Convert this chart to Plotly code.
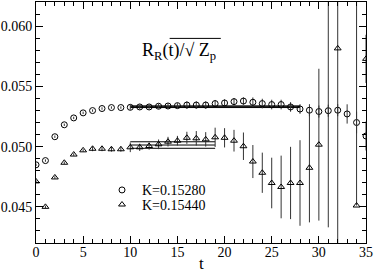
import plotly.graph_objects as go

t = list(range(36))

circ_val = [0.04849, 0.04884, 0.05082, 0.05181, 0.05238, 0.05280, 0.05299, 0.05316, 0.05324, 0.05324,
            0.05326, 0.05329, 0.05329, 0.05335, 0.05337, 0.05340, 0.05345, 0.05345, 0.05345, 0.05357,
            0.05362, 0.05373, 0.05378, 0.05368, 0.05357, 0.05349, 0.05349, 0.05329, 0.05312, 0.05302,
            0.05291, 0.05298, 0.05302, 0.05271, 0.05200, 0.05088]
circ_err = [0.0001, 0.0001, 0.0001, 0.0001, 0.0001, 0.0001, 0.0001, 0.0001, 0.0001, 0.0001,
            0.0002, 0.0002, 0.0002, 0.0002, 0.0002, 0.0002, 0.0003, 0.0003, 0.0003, 0.0003,
            0.0003, 0.0003, 0.0003, 0.0004, 0.0004, 0.0004, 0.0004, 0.0004, 0.0004, 0.0005,
            0.0005, 0.0005, 0.0005, 0.0008, 0.0009, 0.0012]

tri_val = [0.04711, 0.04500, 0.04744, 0.04866, 0.04934, 0.04969, 0.04982, 0.04982, 0.04978, 0.04978,
           0.04994, 0.04994, 0.05005, 0.05019, 0.05041, 0.05049, 0.05073, 0.05069, 0.05060, 0.05077,
           0.05073, 0.05049, 0.05003, 0.04876, 0.04783, 0.04698, 0.04665, 0.04698, 0.04698, 0.04824,
           0.05016, 0.06450, 0.05815, None, 0.04511, 0.05728]
tri_err_plus = [0.0001, 0.0001, 0.0001, 0.0001, 0.0001, 0.0001, 0.0002, 0.0002, 0.0002, 0.0002,
                0.0004, 0.0003, 0.0003, 0.0004, 0.0004, 0.0004, 0.0005, 0.0006, 0.0006, 0.0008,
                0.0008, 0.0009, 0.00114, 0.00137, 0.00167, 0.0021, 0.0026, 0.0030, 0.00355, 0.00453,
                0.0063, 0.0212, 0.0180, 0.0, 0.0200, 0.0020]
tri_err_minus = [0.0001, 0.0001, 0.0001, 0.0001, 0.0001, 0.0001, 0.0002, 0.0002, 0.0002, 0.0002,
                 0.0004, 0.0003, 0.0003, 0.0004, 0.0004, 0.0004, 0.0005, 0.0006, 0.0006, 0.0008,
                 0.0008, 0.0009, 0.00114, 0.00137, 0.00167, 0.0021, 0.0026, 0.0030, 0.00355, 0.00453,
                 0.0063, 0.0212, 0.0180, 0.0, 0.0, 0.0020]

# plateau fits: (t_start, t_end, value, error)
fit_circ = (10, 28, 0.05331, 0.00007)
fit_tri = (10, 19, 0.05013, 0.00027)

labels = ["K=0.15280", "K=0.15440"]

FONT = "Liberation Serif"
BAR = "#333333"
fig = go.Figure()

for (t0, t1, v, e) in [fit_circ, fit_tri]:
    for yv in (v - e, v, v + e):
        fig.add_trace(go.Scatter(x=[t0, t1], y=[yv, yv], mode="lines",
                                 line=dict(color="black", width=1), showlegend=False,
                                 hoverinfo="skip"))

fig.add_trace(go.Scatter(
    x=t, y=circ_val, mode="markers", name=labels[0], legend="legend",
    marker=dict(symbol="circle-open", size=6, color="black", line=dict(width=1, color="black")),
    error_y=dict(type="data", array=circ_err, color=BAR, thickness=1, width=0),
))
fig.add_trace(go.Scatter(
    x=t, y=tri_val, mode="markers", name=labels[1], legend="legend2",
    marker=dict(symbol="triangle-up-open", size=6, color="black", line=dict(width=1, color="black")),
    error_y=dict(type="data", array=tri_err_plus, arrayminus=tri_err_minus, symmetric=False,
                 color=BAR, thickness=1, width=0),
))

axis_common = dict(
    showline=True, linecolor="black", linewidth=1, mirror="ticks",
    ticks="inside", ticklen=7, tickwidth=1, tickcolor="black",
    showgrid=False, zeroline=False, automargin=False,
    tickfont=dict(family=FONT, size=14, color="black"),
)

fig.update_layout(
    width=374, height=273, autosize=False,
    margin=dict(l=36, r=8, t=2, b=30),
    paper_bgcolor="white", plot_bgcolor="white",
    font=dict(family=FONT, color="black"),
    xaxis=dict(range=[0, 35], dtick=5, tick0=0, ticklabelstandoff=-4,
               minor=dict(dtick=1, ticks="inside", ticklen=4, tickcolor="black"),
               **axis_common),
    yaxis=dict(range=[0.042, 0.062], dtick=0.005, tick0=0.045, tickformat=".3f",
               minor=dict(dtick=0.001, ticks="inside", ticklen=4, tickcolor="black"),
               **axis_common),
    legend=dict(x=0.2, y=0.2185, xanchor="left", yanchor="middle",
                font=dict(family=FONT, size=14, color="black"), bgcolor="rgba(0,0,0,0)"),
    legend2=dict(x=0.2, y=0.158, xanchor="left", yanchor="middle",
                 font=dict(family=FONT, size=14, color="black"), bgcolor="rgba(0,0,0,0)"),
    annotations=[
        dict(xref="paper", yref="paper", x=0.433, y=0.795, xanchor="center", yanchor="middle",
             text="R<sub>R</sub>(t)/√ Z<sub>p</sub>", showarrow=False,
             font=dict(family=FONT, size=18, color="black")),
        dict(xref="paper", yref="paper", x=0.5, y=-0.085, xanchor="center", yanchor="middle",
             text="t", showarrow=False, borderpad=0,
             font=dict(family=FONT, size=17, color="black")),
    ],
    shapes=[dict(type="line", xref="paper", yref="paper", x0=0.405, x1=0.56, y0=0.849, y1=0.849,
                 line=dict(color="black", width=1))],
)

fig.write_html("out.html", config={"displayModeBar": False},
               post_script="document.body.style.margin='0';document.body.style.overflow='hidden';")
